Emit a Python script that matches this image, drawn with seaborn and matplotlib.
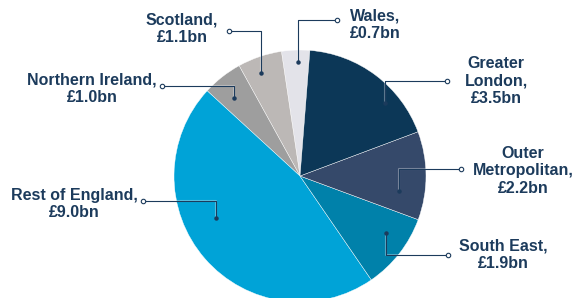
import matplotlib
matplotlib.use("Agg")
import matplotlib.pyplot as plt
import matplotlib.patheffects as pe
import seaborn as sns

# === Data (counter-clockwise from 12 o'clock) ===
regions = ["Wales", "Scotland", "Northern Ireland", "Rest of England",
           "South East", "Outer Metropolitan", "Greater London"]
values_bn = [0.7, 1.1, 1.0, 9.0, 1.9, 2.2, 3.5]
label_text = ["Wales,", "Scotland,", "Northern Ireland,", "Rest of England,",
              "South East,", "Outer\nMetropolitan,", "Greater\nLondon,"]
colors = ["#e3e3e9", "#bcb8b6", "#9e9e9e", "#00a3d7",
          "#0081aa", "#35496a", "#0c3757"]

W, H = 574, 298
TEXT_COLOR = "#1c3b5c"

# label layout in pixels from top-left: text anchor, ha, circle, elbow, dot
layout = {
    "Wales": ((350, 25), "left", (337, 20), (298, 20), (298, 62)),
    "Scotland": ((182, 29), "center", (229, 31), (261, 31), (261, 73)),
    "Northern Ireland": ((92, 89), "center", (162, 86), (234, 86), (234, 98)),
    "Rest of England": ((74, 204), "center", (143, 201), (216, 201), (216, 218)),
    "South East": ((503, 255), "center", (448, 255), (386, 255), (386, 233)),
    "Outer Metropolitan": ((523, 171), "center", (461, 169), (399, 169), (399, 191)),
    "Greater London": ((496, 81), "center", (447, 81), (385, 81), (385, 103)),
}


def px(p):
    return p[0], H - p[1]


def main():
    sns.set_theme(style="white")
    plt.rcParams["font.family"] = ["Liberation Sans", "DejaVu Sans"]

    fig = plt.figure(figsize=(W / 100, H / 100), dpi=100)
    ax = fig.add_axes([0, 0, 1, 1])

    ax.pie(values_bn, colors=sns.color_palette(colors), startangle=85.5,
           counterclock=True, center=px((300, 176)), radius=126,
           wedgeprops=dict(edgecolor="#ffffff", linewidth=0.3), frame=True)
    ax.set_xlim(0, W)
    ax.set_ylim(0, H)
    ax.set_aspect("equal")
    ax.axis("off")

    halo = [pe.Stroke(linewidth=1.5, foreground="#ffffff", alpha=0.35), pe.Normal()]
    for name, text, val in zip(regions, label_text, values_bn):
        tpos, ha, circ, elbow, dot = layout[name]
        xs, ys = zip(*[px(circ), px(elbow), px(dot)])
        ax.plot(xs, ys, color=TEXT_COLOR, lw=0.8, path_effects=halo, zorder=3)
        ax.plot(*px(dot), "o", ms=2.2, color=TEXT_COLOR, zorder=4)
        ax.plot(*px(circ), "o", ms=3.2, mfc="white", mec=TEXT_COLOR, mew=0.8, zorder=4)
        ax.text(*px(tpos), f"{text}\n£{val:.1f}bn", ha=ha, va="center",
                multialignment=ha, fontsize=11.5, fontweight="bold",
                color=TEXT_COLOR, linespacing=1.18)

    fig.savefig("out.png", dpi=100)
    plt.close(fig)


if __name__ == "__main__":
    main()
